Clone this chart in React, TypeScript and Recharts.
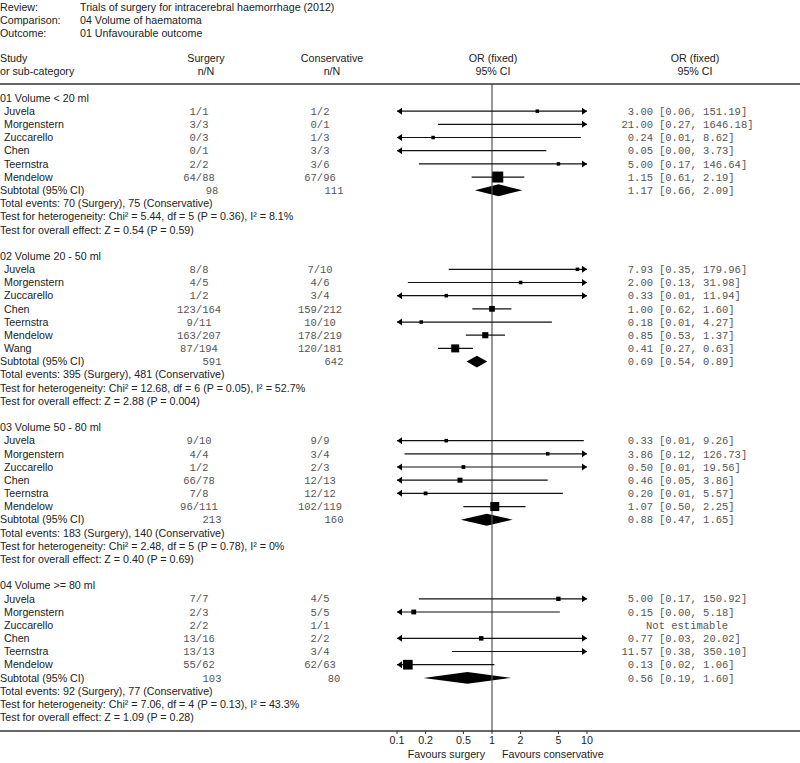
import React from 'react';
import { ComposedChart, XAxis, YAxis, Scatter, ReferenceLine, ReferenceArea } from 'recharts';

// ---------- data ----------
const reviewTitle = 'Trials of surgery for intracerebral haemorrhage (2012)';
const comparisonTitle = '04 Volume of haematoma';
const outcomeTitle = '01 Unfavourable outcome';

const groupTitles = ['01 Volume < 20 ml', '02 Volume 20 - 50 ml', '03 Volume 50 - 80 ml', '04 Volume >= 80 ml'];

const studyNames = [
  ['Juvela', 'Morgenstern', 'Zuccarello', 'Chen', 'Teernstra', 'Mendelow'],
  ['Juvela', 'Morgenstern', 'Zuccarello', 'Chen', 'Teernstra', 'Mendelow', 'Wang'],
  ['Juvela', 'Morgenstern', 'Zuccarello', 'Chen', 'Teernstra', 'Mendelow'],
  ['Juvela', 'Morgenstern', 'Zuccarello', 'Chen', 'Teernstra', 'Mendelow'],
];
const surgeryNN = [
  ['1/1', '3/3', '0/3', '0/1', '2/2', '64/88'],
  ['8/8', '4/5', '1/2', '123/164', '9/11', '163/207', '87/194'],
  ['9/10', '4/4', '1/2', '66/78', '7/8', '96/111'],
  ['7/7', '2/3', '2/2', '13/16', '13/13', '55/62'],
];
const conservativeNN = [
  ['1/2', '0/1', '1/3', '3/3', '3/6', '67/96'],
  ['7/10', '4/6', '3/4', '159/212', '10/10', '178/219', '120/181'],
  ['9/9', '3/4', '2/3', '12/13', '12/12', '102/119'],
  ['4/5', '5/5', '1/1', '2/2', '3/4', '62/63'],
];
const studyOR = [
  [3.0, 21.0, 0.24, 0.05, 5.0, 1.15],
  [7.93, 2.0, 0.33, 1.0, 0.18, 0.85, 0.41],
  [0.33, 3.86, 0.5, 0.46, 0.2, 1.07],
  [5.0, 0.15, null, 0.77, 11.57, 0.13],
];
const studyLo = [
  [0.06, 0.27, 0.01, 0.0, 0.17, 0.61],
  [0.35, 0.13, 0.01, 0.62, 0.01, 0.53, 0.27],
  [0.01, 0.12, 0.01, 0.05, 0.01, 0.5],
  [0.17, 0.0, null, 0.03, 0.38, 0.02],
];
const studyHi = [
  [151.19, 1646.18, 8.62, 3.73, 146.64, 2.19],
  [179.96, 31.98, 11.94, 1.6, 4.27, 1.37, 0.63],
  [9.26, 126.73, 19.56, 3.86, 5.57, 2.25],
  [150.92, 5.18, null, 20.02, 350.1, 1.06],
];
// estimated study weights (%), not printed in the figure
const studyWeight = [
  [1.5, 0.9, 4.5, 3.9, 2.3, 77],
  [1.1, 2.6, 2.7, 21, 3.0, 24, 41],
  [8, 6, 9, 16, 9, 52],
  [12, 15, 0, 13, 6, 60],
];
const subtotalSurgeryN = [98, 591, 213, 103];
const subtotalConservativeN = [111, 642, 160, 80];
const subtotalOR = [1.17, 0.69, 0.88, 0.56];
const subtotalLo = [0.66, 0.54, 0.47, 0.19];
const subtotalHi = [2.09, 0.89, 1.65, 1.6];
const totalEvents = [
  'Total events: 70 (Surgery), 75 (Conservative)',
  'Total events: 395 (Surgery), 481 (Conservative)',
  'Total events: 183 (Surgery), 140 (Conservative)',
  'Total events: 92 (Surgery), 77 (Conservative)',
];
const heterogeneity = [
  'Test for heterogeneity: Chi² = 5.44, df = 5 (P = 0.36), I² = 8.1%',
  'Test for heterogeneity: Chi² = 12.68, df = 6 (P = 0.05), I² = 52.7%',
  'Test for heterogeneity: Chi² = 2.48, df = 5 (P = 0.78), I² = 0%',
  'Test for heterogeneity: Chi² = 7.06, df = 4 (P = 0.13), I² = 43.3%',
];
const overallEffect = [
  'Test for overall effect: Z = 0.54 (P = 0.59)',
  'Test for overall effect: Z = 2.88 (P = 0.004)',
  'Test for overall effect: Z = 0.40 (P = 0.69)',
  'Test for overall effect: Z = 1.09 (P = 0.28)',
];
const xTicks = [0.1, 0.2, 0.5, 1, 2, 5, 10];

// ---------- layout constants ----------
const X_MIN = 0.1;
const X_MAX = 10;
const SANS = '"Liberation Sans", Arial, sans-serif';
const MONO = '"Liberation Mono", "Courier New", monospace';
const FS = 10.7;
const TEXT = '#222';
const MONO_C = '#555';

// ---------- build rows ----------
type Row = {
  r: number;
  kind: 'group' | 'study' | 'subtotal' | 'text';
  label: string;
  s?: string;
  c?: string;
  or?: number | null;
  lo?: number | null;
  hi?: number | null;
  w?: number;
};
const rows: Row[] = [];
{
  let r = 0;
  groupTitles.forEach((gt, g) => {
    rows.push({ r: r++, kind: 'group', label: gt });
    studyNames[g].forEach((nm, i) => {
      rows.push({
        r: r++, kind: 'study', label: nm, s: surgeryNN[g][i], c: conservativeNN[g][i],
        or: studyOR[g][i], lo: studyLo[g][i], hi: studyHi[g][i], w: studyWeight[g][i],
      });
    });
    rows.push({
      r: r++, kind: 'subtotal', label: 'Subtotal (95% CI)', s: String(subtotalSurgeryN[g]),
      c: String(subtotalConservativeN[g]), or: subtotalOR[g], lo: subtotalLo[g], hi: subtotalHi[g],
    });
    rows.push({ r: r++, kind: 'text', label: totalEvents[g] });
    rows.push({ r: r++, kind: 'text', label: heterogeneity[g] });
    rows.push({ r: r++, kind: 'text', label: overallEffect[g] });
    r++;
  });
}
const rowByIndex: Record<number, Row> = {};
rows.forEach((rw) => { rowByIndex[rw.r] = rw; });
const tickRows = rows.map((rw) => rw.r);

const studyRows = rows.filter((rw) => rw.kind === 'study' && rw.or != null);
const subRows = rows.filter((rw) => rw.kind === 'subtotal');

const clip = (v: number) => Math.min(X_MAX, Math.max(X_MIN, v));
const squareData = studyRows
  .filter((rw) => (rw.or as number) >= X_MIN && (rw.or as number) <= X_MAX)
  .map((rw) => ({ x: rw.or as number, row: rw.r, w: rw.w as number }));
const arrowData: { x: number; row: number; dir: 'l' | 'r' }[] = [];
studyRows.forEach((rw) => {
  if ((rw.lo as number) < X_MIN) arrowData.push({ x: X_MIN, row: rw.r, dir: 'l' });
  if ((rw.hi as number) > X_MAX) arrowData.push({ x: X_MAX, row: rw.r, dir: 'r' });
});

// ---------- shapes ----------
const SquareShape = (props: any) => {
  const { cx, cy, payload } = props;
  const side = Math.min(12, Math.max(3.5, 1.25 * Math.sqrt(payload.w)));
  return <rect x={cx - side / 2} y={cy - side / 2} width={side} height={side} fill="#000" />;
};
const ArrowShape = (props: any) => {
  const { cx, cy, payload } = props;
  const d = payload.dir === 'l' ? 1 : -1;
  const pts = `${cx},${cy} ${cx + d * 5},${cy - 3.5} ${cx + d * 5},${cy + 3.5}`;
  return <polygon points={pts} fill="#000" />;
};
const DiamondShape = (props: any) => {
  const { x, y, width, height } = props;
  const cy = y + height / 2;
  const cx = x + width / 2;
  const pts = `${x},${cy} ${cx},${y} ${x + width},${cy} ${cx},${y + height}`;
  return <polygon points={pts} fill="#000" />;
};

const LeftTick = (props: any) => {
  const { y, payload } = props;
  const rw = rowByIndex[Math.round(payload.value)];
  if (!rw) return null;
  const common = { dy: '0.35em', fontFamily: SANS, fontSize: FS, fill: TEXT };
  const mono = { dy: '0.35em', fontFamily: MONO, fontSize: 10.5, fill: MONO_C, textAnchor: 'middle' as const };
  if (rw.kind === 'study') {
    return (
      <g>
        <text x={4} y={y} {...common}>{rw.label}</text>
        <text x={199} y={y} {...mono}>{rw.s}</text>
        <text x={320} y={y} {...mono}>{rw.c}</text>
      </g>
    );
  }
  if (rw.kind === 'subtotal') {
    return (
      <g>
        <text x={0} y={y} {...common}>{rw.label}</text>
        <text x={212} y={y} {...mono}>{rw.s}</text>
        <text x={334} y={y} {...mono}>{rw.c}</text>
      </g>
    );
  }
  return <text x={0} y={y} {...common}>{rw.label}</text>;
};

const RightTick = (props: any) => {
  const { y, payload } = props;
  const rw = rowByIndex[Math.round(payload.value)];
  if (!rw || (rw.kind !== 'study' && rw.kind !== 'subtotal')) return null;
  const st = { dy: '0.35em', fontFamily: MONO, fontSize: 10.5, fill: MONO_C };
  if (rw.or == null) {
    return <text x={687} y={y} textAnchor="middle" {...st}>Not estimable</text>;
  }
  return (
    <g>
      <text x={653} y={y} textAnchor="end" {...st}>{(rw.or as number).toFixed(2)}</text>
      <text x={659} y={y} textAnchor="start" {...st}>{`[${(rw.lo as number).toFixed(2)}, ${(rw.hi as number).toFixed(2)}]`}</text>
    </g>
  );
};

const Y_DOMAIN: [number, number] = [-14 / 13.2, 634 / 13.2];

export default function App() {
  const W = 800;
  const H = 763;
  return (
    <div style={{ position: 'absolute', left: 0, top: 0, width: W, height: H, background: '#fff' }}>
      <ComposedChart width={W} height={H} margin={{ top: 84, right: 0, bottom: 0, left: 0 }}>
        <XAxis
          xAxisId="x"
          type="number"
          dataKey="x"
          scale="log"
          domain={[X_MIN, X_MAX]}
          allowDataOverflow
          ticks={xTicks}
          interval={0}
          height={32}
          axisLine={false}
          tickSize={3}
          tickLine={{ stroke: '#333' }}
          tick={{ fontFamily: SANS, fontSize: FS, fill: TEXT }}
          tickFormatter={(v: number) => String(v)}
        />
        <YAxis
          yAxisId="left"
          type="number"
          dataKey="row"
          domain={Y_DOMAIN}
          allowDataOverflow
          reversed
          width={397}
          ticks={tickRows}
          interval={0}
          axisLine={false}
          tickLine={false}
          tick={<LeftTick />}
        />
        <YAxis
          yAxisId="right"
          orientation="right"
          type="number"
          dataKey="row"
          domain={Y_DOMAIN}
          allowDataOverflow
          reversed
          width={213}
          ticks={tickRows}
          interval={0}
          axisLine={false}
          tickLine={false}
          tick={<RightTick />}
        />
        <ReferenceLine xAxisId="x" yAxisId="left" x={1} stroke="#555" strokeWidth={1.2} ifOverflow="visible" />
        {studyRows.map((rw) => (
          <ReferenceLine
            key={`ci-${rw.r}`}
            xAxisId="x"
            yAxisId="left"
            ifOverflow="visible"
            segment={[{ x: clip(rw.lo as number), y: rw.r }, { x: clip(rw.hi as number), y: rw.r }]}
            stroke="#111"
            strokeWidth={1.2}
          />
        ))}
        {subRows.map((rw) => (
          <ReferenceArea
            key={`dia-${rw.r}`}
            xAxisId="x"
            yAxisId="left"
            x1={rw.lo as number}
            x2={rw.hi as number}
            y1={rw.r - 0.45}
            y2={rw.r + 0.45}
            ifOverflow="visible"
            shape={(p: any) => <DiamondShape {...p} />}
          />
        ))}
        <Scatter xAxisId="x" yAxisId="left" data={squareData} dataKey="row" shape={SquareShape} isAnimationActive={false} />
        <Scatter xAxisId="x" yAxisId="left" data={arrowData} dataKey="row" shape={ArrowShape} isAnimationActive={false} />
      </ComposedChart>
      <svg width={W} height={H} style={{ position: 'absolute', left: 0, top: 0, pointerEvents: 'none' }}>
        <g fontFamily={SANS} fontSize={FS} fill={TEXT}>
          <text x={0} y={11}>Review:</text>
          <text x={80} y={11}>{reviewTitle}</text>
          <text x={0} y={24}>Comparison:</text>
          <text x={80} y={24}>{comparisonTitle}</text>
          <text x={0} y={37}>Outcome:</text>
          <text x={80} y={37}>{outcomeTitle}</text>
          <text x={0} y={62}>Study</text>
          <text x={0} y={75}>or sub-category</text>
          <text x={206} y={62} textAnchor="middle">Surgery</text>
          <text x={206} y={75} textAnchor="middle">n/N</text>
          <text x={332} y={62} textAnchor="middle">Conservative</text>
          <text x={332} y={75} textAnchor="middle">n/N</text>
          <text x={493} y={62} textAnchor="middle">OR (fixed)</text>
          <text x={493} y={75} textAnchor="middle">95% CI</text>
          <text x={695} y={62} textAnchor="middle">OR (fixed)</text>
          <text x={695} y={75} textAnchor="middle">95% CI</text>
          <text x={485} y={758} textAnchor="end">Favours surgery</text>
          <text x={502} y={758} textAnchor="start">Favours conservative</text>
        </g>
        <line x1={0} x2={W} y1={84} y2={84} stroke="#333" strokeWidth={1.5} />
        <line x1={0} x2={W} y1={731} y2={731} stroke="#333" strokeWidth={1.5} />
      </svg>
    </div>
  );
}
